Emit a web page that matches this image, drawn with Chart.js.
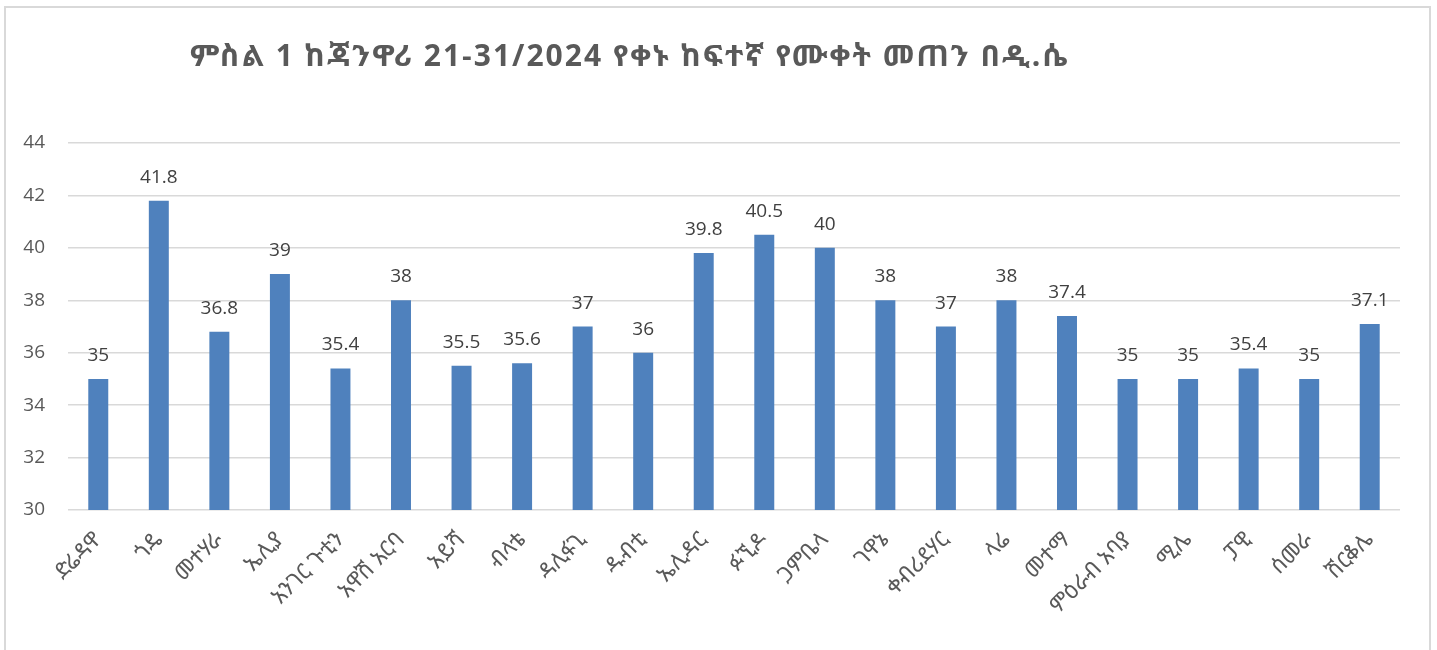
<!DOCTYPE html>
<html>
<head>
<meta charset="utf-8">
<script src="https://cdn.jsdelivr.net/npm/chart.js@4"></script>
<style>
  html, body { margin: 0; padding: 0; background: #ffffff; width: 1437px; height: 650px; overflow: hidden; }
  #frame { position: absolute; left: 4px; top: 6px; width: 1427px; height: 700px; border: 2px solid #d9d9d9; box-sizing: border-box; }
  #wrap { position: absolute; left: 0; top: 0; width: 1437px; height: 650px; }
</style>
</head>
<body>
<div id="frame"></div>
<div id="wrap"><canvas id="c" width="1437" height="650"></canvas></div>
<script>
const chartTitle = "ምስል 1 ከጃንዋሪ 21-31/2024 የቀኑ ከፍተኛ የሙቀት መጠን በዲ.ሴ";
const stations = ["ድሬዳዋ", "ጎዴ", "መተሃራ", "ኤሊያ", "አንገር ጉቲን", "አዋሽ አርባ", "አይሻ", "ብላቴ", "ዳሊፋጊ", "ዱብቲ", "ኤሊዳር", "ፉኚዶ", "ጋምቤላ", "ገዋኔ", "ቀብሪደሃር", "ላሬ", "መተማ", "ምዕራብ አባያ", "ሚሌ", "ፓዊ", "ሰመራ", "ሽርቆሌ"];
const maxTemp = [35, 41.8, 36.8, 39, 35.4, 38, 35.5, 35.6, 37, 36, 39.8, 40.5, 40, 38, 37, 38, 37.4, 35, 35, 35.4, 35, 37.1];
const yMin = 30, yMax = 44, yStep = 2;

const ETH_FONT = "'Noto Sans Ethiopic', 'Abyssinica SIL', 'DejaVu Sans', 'Noto Sans', sans-serif";
const TITLE_FONT = "'Liberation Sans Narrow', 'Noto Sans Ethiopic', 'DejaVu Sans', sans-serif";

const valueLabels = {
  id: 'valueLabels',
  afterDatasetsDraw(chart) {
    const ctx = chart.ctx;
    const meta = chart.getDatasetMeta(0);
    ctx.save();
    ctx.font = "19px 'Open Sans', sans-serif";
    ctx.fillStyle = '#404040';
    ctx.textAlign = 'center';
    ctx.textBaseline = 'alphabetic';
    meta.data.forEach((bar, i) => {
      ctx.fillText(String(chart.data.datasets[0].data[i]), bar.x, bar.y - 18);
    });
    ctx.restore();
  }
};

const titlePlugin = {
  id: 'titlePlugin',
  afterDraw(chart) {
    const ctx = chart.ctx;
    ctx.save();
    ctx.font = "bold 30px " + TITLE_FONT;
    if ('letterSpacing' in ctx) ctx.letterSpacing = '2px';
    ctx.fillStyle = '#595959';
    ctx.textAlign = 'left';
    ctx.textBaseline = 'alphabetic';
    ctx.fillText(chartTitle, 190, 66);
    ctx.restore();
  }
};

new Chart(document.getElementById('c'), {
  type: 'bar',
  data: {
    labels: stations,
    datasets: [{
      data: maxTemp,
      backgroundColor: '#4f81bd',
      borderWidth: 0,
      categoryPercentage: 1.0,
      barPercentage: 0.33
    }]
  },
  options: {
    responsive: false,
    animation: false,
    devicePixelRatio: 1,
    layout: { padding: { top: 143, right: 37, left: 0, bottom: 0 } },
    plugins: { legend: { display: false }, tooltip: { enabled: false }, title: { display: false } },
    scales: {
      x: {
        grid: { display: false, drawTicks: false },
        border: { display: false },
        ticks: {
          minRotation: 45, maxRotation: 45, autoSkip: false, padding: 17,
          color: '#595959',
          font: { size: 22, family: ETH_FONT }
        },
        afterFit(scale) { scale.height = 140; }
      },
      y: {
        min: yMin, max: yMax,
        grid: { color: '#d9d9d9', lineWidth: 1.5, drawTicks: false },
        border: { display: false },
        ticks: {
          stepSize: yStep, padding: 23,
          color: '#595959',
          font: { size: 19, family: "'Open Sans', sans-serif" }
        },
        afterFit(scale) { scale.width = 68; }
      }
    }
  },
  plugins: [valueLabels, titlePlugin]
});
</script>
</body>
</html>
